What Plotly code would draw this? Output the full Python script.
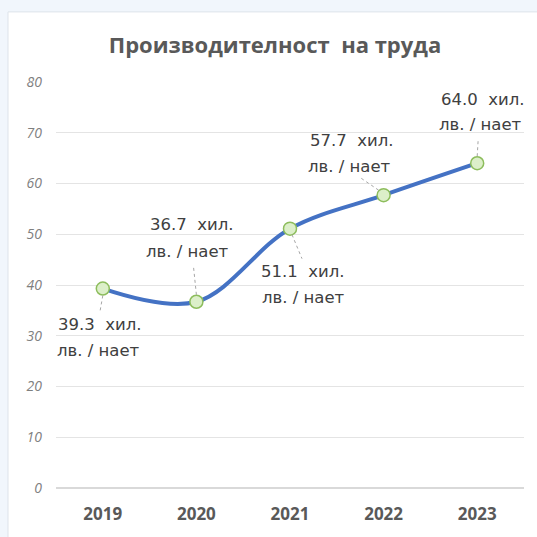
import plotly.graph_objects as go

years = ["2019", "2020", "2021", "2022", "2023"]
values = [39.3, 36.7, 51.1, 57.7, 64.0]
unit_line1 = " хил."
unit_line2 = "лв. / нает"
y_ticks = [0, 10, 20, 30, 40, 50, 60, 70, 80]
title_text = "Производителност  на труда"

# label placement offsets in pixels (style only)
l1_shift = [(-3, -36), (-4, 77), (13, -43), (-32, 55), (6, 64)]
l2_shift = [(-4, -62), (-9, 50), (13, -69), (-34, 29), (3, 39)]
leader = [((0, -7), (-3, -24)), ((0, 7), (-3, 36)), ((2, -6), (12, -30)),
          ((-5, 5), (-24, 18)), ((0, 7), (1, 24))]

fig = go.Figure()
fig.add_trace(go.Scatter(
    x=years, y=values, mode="lines+markers",
    line=dict(color="#4472C4", width=4, shape="spline", smoothing=1.0),
    marker=dict(size=13, color="#dcefc9", line=dict(color="#8dbd5c", width=1.5)),
    hoverinfo="skip", cliponaxis=False,
))

T, B = 82, 38
H = 537 - T - B
annotations = []
shapes = [dict(type="rect", xref="paper", yref="paper",
               x0=(8 - 56) / 468, x1=(560 - 56) / 468,
               y0=-(B + 30) / H, y1=(537 - B - 10) / H,
               fillcolor="white", line=dict(color="#dde3ea", width=1), layer="below")]
lab_font = dict(family="DejaVu Sans", size=16.5, color="#404040")
for i, (yr, v) in enumerate(zip(years, values)):
    annotations.append(dict(x=i, y=v, xref="x", yref="y", text=f"{v:.1f} {unit_line1}",
                            showarrow=False, xanchor="center", yanchor="middle",
                            xshift=l1_shift[i][0], yshift=l1_shift[i][1], font=lab_font))
    annotations.append(dict(x=i, y=v, xref="x", yref="y", text=unit_line2,
                            showarrow=False, xanchor="center", yanchor="middle",
                            xshift=l2_shift[i][0], yshift=l2_shift[i][1], font=lab_font))
    (a0, b0), (a1, b1) = leader[i]
    shapes.append(dict(type="line", xref="x", yref="y", xsizemode="pixel", ysizemode="pixel",
                       xanchor=i, yanchor=v, x0=a0, y0=b0, x1=a1, y1=b1,
                       line=dict(color="#a6a6a6", width=1, dash="dot"), layer="above"))

fig.update_layout(
    width=537, height=537,
    margin=dict(l=56, r=13, t=T, b=B),
    paper_bgcolor="#f1f6fc", plot_bgcolor="white",
    showlegend=False,
    title=dict(text=f"<b>{title_text}</b>", x=275 / 537, xanchor="center",
               y=1 - 45 / 537, yanchor="middle", yref="container",
               font=dict(family="Open Sans", size=22, color="#595959")),
    annotations=annotations, shapes=shapes,
    xaxis=dict(type="category", categoryorder="array", categoryarray=years,
               range=[-0.5, len(years) - 0.5], showgrid=False, zeroline=False, showline=False,
               ticks="", ticklabelstandoff=14,
               tickfont=dict(family="Open Sans", size=17, color="#595959", weight="bold")),
    yaxis=dict(range=[0, 80], tickvals=y_ticks, showgrid=True, gridcolor="#e4e4e4",
               gridwidth=1, zeroline=True, zerolinecolor="#d9d9d9", showline=False,
               ticks="", ticklabelstandoff=13,
               tickfont=dict(family="Open Sans", size=14, color="#7f7f7f", style="italic")),
)

fig.write_html("out.html", config={"displayModeBar": False},
               post_script="document.body.style.margin='0';document.body.style.overflow='hidden';")
